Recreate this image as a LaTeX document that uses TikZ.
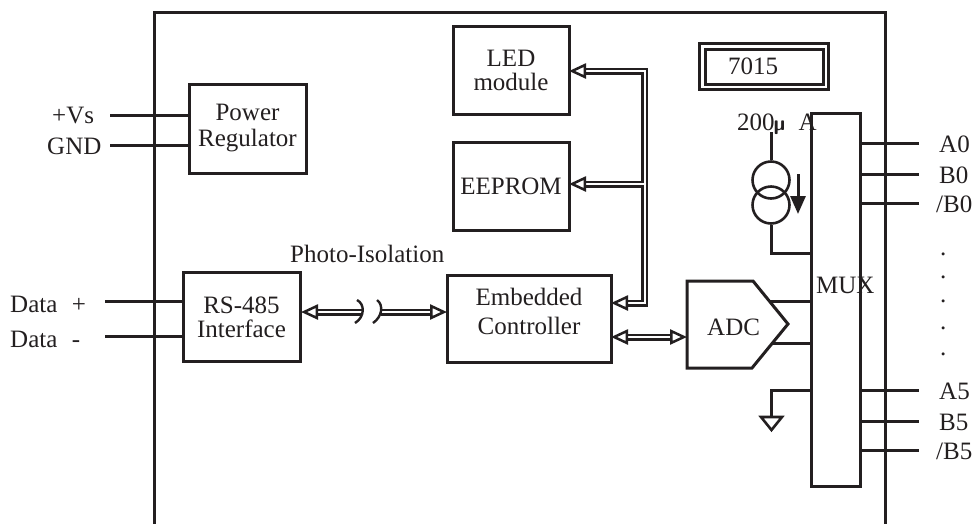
\documentclass[tikz,border=0pt]{standalone}
\usepackage{fontspec}
\setmainfont{Liberation Serif}
\usetikzlibrary{arrows.meta}
\definecolor{ink}{HTML}{231F20}
\tikzset{
  blk/.style={draw=ink, line width=3pt, text=ink, align=center, inner sep=0pt},
  lbl/.style={text=ink, inner sep=0pt, anchor=base west},
  wire/.style={draw=ink, line width=3pt},
  bus/.style={draw=ink, line width=2.5pt, double=white, double distance=2pt},
  tipr/.style={-{Triangle[open, fill=white, length=17pt, width=15pt, line width=2.5pt]}},
  tipb/.style={{Triangle[open, fill=white, length=17pt, width=15pt, line width=2.5pt]}-{Triangle[open, fill=white, length=17pt, width=15pt, line width=2.5pt]}},
}
\begin{document}
\begin{tikzpicture}[x=1pt, y=-1pt, font=\fontsize{25}{24}\selectfont]
\useasboundingbox (0,0) rectangle (975,523);
\coordinate (fa) at (154,523);
\coordinate (fb) at (154,12);
\coordinate (fc) at (885,12);
\coordinate (fd) at (885,523);
\draw[wire, line cap=rect] (fa) -- (fb) -- (fc) -- (fd);
\node[blk, minimum width=116pt, minimum height=88pt] (led) at (511,70.5){LED\\module};
\node[blk, minimum width=116pt, minimum height=88pt] (eeprom) at (511,186){\raisebox{-6pt}{EEPROM}};
\node[blk, minimum width=164pt, minimum height=87pt, font=\fontsize{25}{29}\selectfont, text depth=15pt] (ctrl) at (529,318.5){Embedded\hspace{4pt}\\Controller\hspace{9pt}};
\node[blk, minimum width=117pt, minimum height=89pt] (rs) at (241.5,317){RS-485\\Interface};
\node[blk, minimum width=117pt, minimum height=89pt, font=\fontsize{25}{26}\selectfont] (pwr) at (247.5,128.5){Power\\Regulator};
\node[blk, minimum width=129pt, minimum height=46pt] (dispo) at (763.5,66){};
\node[blk, minimum width=118pt, minimum height=35pt] (dispi) at (764,66.5){\raisebox{-2pt}{7015}\hspace{22pt}};
\node[blk, minimum width=49pt, minimum height=373pt] (mux) at (835.5,299.5){};
\node[lbl] (muxl) at (816,293){MUX};
\node[lbl] (isol) at (290,262){Photo-Isolation};
\node[lbl] (vs) at (52,123){+Vs};
\node[lbl] (gnd) at (47,154){GND};
\node[lbl] (dp) at (10,312){Data\,\, +};
\node[lbl] (dm) at (10,347){Data\,\, -};
\node[lbl] (cur) at (737,130){200\makebox[23pt][l]{\hspace{-1pt}\fontsize{21}{21}\selectfont\sffamily\bfseries µ}\hspace{1pt}A};
\node[lbl] (adcl) at (707,335){ADC};
\node[lbl] (a0) at (939,152){A0};
\node[lbl] (b0) at (939,183){B0};
\node[lbl] (nb0) at (936,212){/B0};
\node[lbl] (a5) at (939,399){A5};
\node[lbl] (b5) at (939,430){B5};
\node[lbl] (nb5) at (936,459){/B5};
\node[lbl] (dot1) at (940,255){.};
\node[lbl] (dot2) at (940,278){.};
\node[lbl] (dot3) at (940,302){.};
\node[lbl] (dot4) at (940,329){.};
\node[lbl] (dot5) at (940,355){.};
\coordinate (pvs) at (110,115);
\coordinate (pgnd) at (110,145);
\coordinate (pdp) at (105,301);
\coordinate (pdm) at (105,336);
\draw[wire] (pvs) -- (pwr.west |- pvs);
\draw[wire] (pgnd) -- (pwr.west |- pgnd);
\draw[wire] (pdp) -- (rs.west |- pdp);
\draw[wire] (pdm) -- (rs.west |- pdm);
\coordinate (pa0) at (919,143);
\coordinate (pb0) at (919,174);
\coordinate (pnb0) at (919,203);
\coordinate (pa5) at (919,390);
\coordinate (pb5) at (919,421);
\coordinate (pnb5) at (919,450);
\draw[wire] (mux.east |- pa0) -- (pa0);
\draw[wire] (mux.east |- pb0) -- (pb0);
\draw[wire] (mux.east |- pnb0) -- (pnb0);
\draw[wire] (mux.east |- pa5) -- (pa5);
\draw[wire] (mux.east |- pb5) -- (pb5);
\draw[wire] (mux.east |- pnb5) -- (pnb5);
\node[circle, draw=ink, line width=2.6pt, minimum size=37pt, inner sep=0pt] (src1) at (771,180){};
\node[circle, draw=ink, line width=2.6pt, minimum size=37pt, inner sep=0pt] (src2) at (771,205){};
\coordinate (ptop) at (771,132);
\coordinate (pret) at (771,253);
\draw[wire] (ptop) -- (src1.north);
\draw[wire] (src2.south) -- (pret) -- (mux.west |- pret);
\coordinate (arra) at (798,174);
\coordinate (arrb) at (798,214);
\draw[wire, -{Triangle[length=18pt, width=15pt]}, ink] (arra) -- (arrb);
\coordinate (adca) at (687,281);
\coordinate (adcb) at (753,281);
\coordinate (adcc) at (788,324);
\coordinate (adcd) at (752,368);
\coordinate (adce) at (687,368);
\draw[wire] (adca) -- (adcb) -- (adcc) -- (adcd) -- (adce) -- cycle;
\coordinate (padc1) at (770,301);
\coordinate (padc2) at (772,343);
\draw[wire] (padc1) -- (mux.west |- padc1);
\draw[wire] (padc2) -- (mux.west |- padc2);
\coordinate (pgd) at (771,390);
\coordinate (pgda) at (771,417);
\coordinate (pgl) at (761,417);
\coordinate (pgr) at (782,417);
\coordinate (pgb) at (771.5,430);
\draw[wire] (mux.west |- pgd) -- (pgd) -- (pgda);
\draw[wire, line width=2.6pt] (pgl) -- (pgr) -- (pgb) -- cycle;
\coordinate (bled) at (569,71);
\coordinate (bup) at (644.5,71);
\coordinate (bdn) at (644.5,303);
\coordinate (bctl) at (611,303);
\coordinate (bee) at (569,184);
\coordinate (bjn) at (644,184);
\draw[bus, tipb] (bled) -- (bup) -- (bdn) -- (bctl);
\draw[bus, tipr] (bjn) -- (bee);
\coordinate (cadc) at (687,337);
\coordinate (cctl) at (611,337);
\draw[bus, tipb] (cctl) -- (cadc);
\coordinate (isa) at (301,312);
\coordinate (isb) at (362,312);
\coordinate (isc) at (381,312);
\coordinate (isd) at (447,312);
\draw[bus, tipr] (isb) -- (isa);
\draw[bus, tipr] (isc) -- (isd);
\coordinate (ara) at (357,300);
\coordinate (arb) at (355,323);
\coordinate (arc) at (377,300);
\coordinate (ard) at (373,323);
\draw[draw=ink, line width=2.4pt] (ara) .. controls (365,304) and (365,317) .. (arb);
\draw[draw=ink, line width=2.4pt] (arc) .. controls (384,305) and (382,317) .. (ard);
\end{tikzpicture}
\end{document}
